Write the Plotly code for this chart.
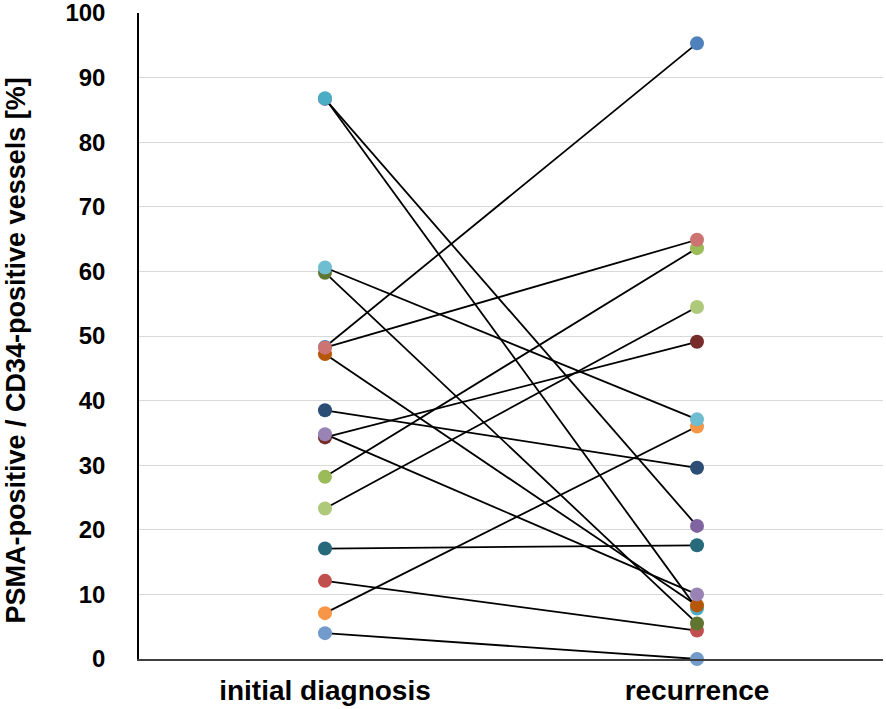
import plotly.graph_objects as go

categories = ["initial diagnosis", "recurrence"]
# paired values (initial, recurrence) in Excel series order
series_names = ["S1", "S2", "S3", "S4", "S5", "S6", "S7", "S8", "S9",
                "S11", "S12", "S13", "S14", "S15", "S16", "S17"]
initial = [48.3, 12.1, 28.2, 86.7, 86.8, 7.1, 38.5, 34.3, 59.8,
           17.1, 47.2, 4.0, 48.2, 23.3, 34.8, 60.6]
recurrence = [95.3, 4.4, 63.6, 20.6, 7.8, 36.0, 29.6, 49.1, 5.5,
              17.6, 8.3, 0.0, 64.9, 54.5, 10.0, 37.1]
colors = ["#4f81bd", "#c0504d", "#9bbb59", "#8064a2", "#4bacc6", "#f79646",
          "#2c4d75", "#772c2a", "#5f7530", "#276a7c", "#b65708",
          "#729aca", "#cd7371", "#afc97a", "#9983b5", "#6fbdd1"]
y_ticks = [0, 10, 20, 30, 40, 50, 60, 70, 80, 90, 100]
y_title = "PSMA-positive / CD34-positive vessels [%]"

fig = go.Figure()
for name, a, b, c in zip(series_names, initial, recurrence, colors):
    fig.add_trace(go.Scatter(
        x=[0, 1], y=[a, b], mode="lines+markers", name=name,
        line=dict(color="black", width=1.8),
        marker=dict(color=c, size=14),
        showlegend=False, cliponaxis=False))

FAM = "Liberation Sans, Arial"
fig.update_layout(
    width=886, height=709,
    margin=dict(l=139, r=3, t=13, b=50, autoexpand=False),
    plot_bgcolor="white", paper_bgcolor="white",
    font=dict(family=FAM, size=20, color="black"),
    xaxis=dict(range=[-0.5, 1.5], tickvals=[0, 1], ticktext=categories,
               showgrid=False, zeroline=False, showline=True,
               linecolor="#404040", linewidth=1.5, ticks="",
               ticklabelstandoff=6,
               tickfont=dict(family=FAM, size=28, color="black", weight="bold")),
    yaxis=dict(range=[0, 100], tickvals=y_ticks, showgrid=True,
               gridcolor="#d9d9d9", gridwidth=1, zeroline=False,
               showline=True, linecolor="black", linewidth=1.5,
               ticks="", ticklabelstandoff=27, ticklabeloverflow="allow",
               tickfont=dict(family=FAM, size=24, color="black", weight="bold")),
    annotations=[dict(text=y_title, xref="paper", yref="paper",
                      x=(16 - 139) / 744, y=0.4776, xanchor="center", yanchor="middle",
                      textangle=-90, showarrow=False,
                      font=dict(family=FAM, size=27, color="black", weight="bold"))],
)
fig.write_html("out.html", config={"displayModeBar": False},
               post_script="document.body.style.margin='0';")
